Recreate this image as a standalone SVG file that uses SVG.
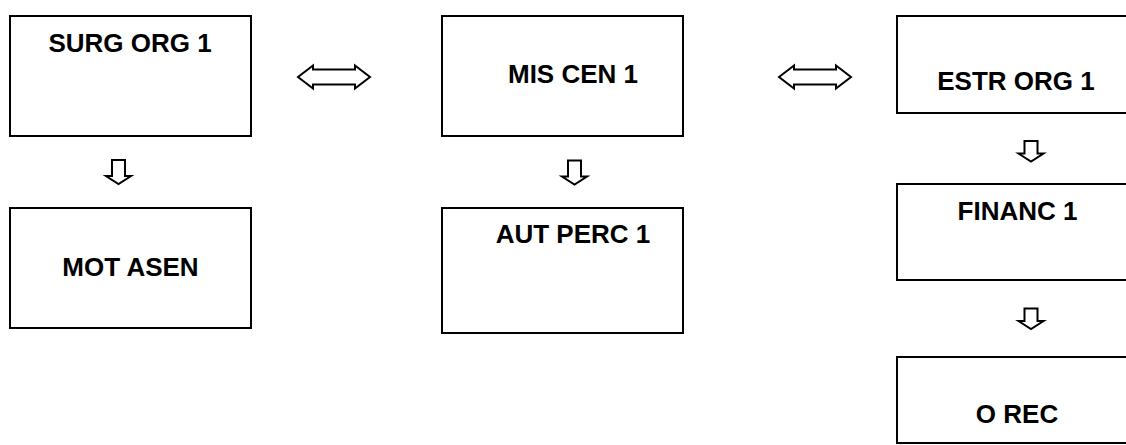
<svg xmlns="http://www.w3.org/2000/svg" width="1126" height="445" viewBox="0 0 1126 445">
<style>
.box{fill:#fff;stroke:#000;stroke-width:2}
.lbl{font-family:"Liberation Sans",Arial,sans-serif;font-weight:bold;font-size:26px;fill:#000;text-anchor:middle}
.arr{fill:#fff;stroke:#000;stroke-width:2;stroke-linejoin:miter}
</style>
<defs>
<path id="down" class="arr" d="M-6.5,-12 L6.5,-12 L6.5,4 L12.5,4 L0,12 L-12.5,4 L-6.5,4 Z"/>
<path id="downs" class="arr" d="M-6.5,-10 L6.5,-10 L6.5,2.5 L12.5,2.5 L0,10.5 L-12.5,2.5 L-6.5,2.5 Z"/>
<path id="dbl" class="arr" d="M0,0 L15,-11.5 L15,-7.5 L57,-7.5 L57,-11.5 L72,0 L57,11.5 L57,7.5 L15,7.5 L15,11.5 Z"/>
</defs>
<rect width="1126" height="445" fill="#fff"/>
<g id="n-surg">
<rect class="box" x="10" y="16" width="241" height="120"/>
<text class="lbl" x="130" y="52">SURG ORG 1</text>
</g>
<g id="n-mis">
<rect class="box" x="442" y="16" width="241" height="120"/>
<text class="lbl" x="573" y="83">MIS CEN 1</text>
</g>
<g id="n-estr">
<rect class="box" x="897" y="16" width="241" height="97"/>
<text class="lbl" x="1016" y="90">ESTR ORG 1</text>
</g>
<g id="n-mot">
<rect class="box" x="10" y="208" width="241" height="120"/>
<text class="lbl" x="130.5" y="276">MOT ASEN</text>
</g>
<g id="n-aut">
<rect class="box" x="442" y="208" width="241" height="125"/>
<text class="lbl" x="573" y="243">AUT PERC 1</text>
</g>
<g id="n-financ">
<rect class="box" x="897" y="184" width="241" height="96"/>
<text class="lbl" x="1017.5" y="220">FINANC 1</text>
</g>
<g id="n-orec">
<rect class="box" x="897" y="357" width="241" height="86"/>
<text class="lbl" x="1017" y="423">O REC</text>
</g>
<g id="connectors">
<use href="#dbl" x="298" y="77"/>
<use href="#dbl" x="779" y="77"/>
<use href="#down" x="118.5" y="172"/>
<use href="#down" x="574.5" y="172.5"/>
<use href="#downs" x="1031" y="151"/>
<use href="#downs" x="1031" y="318.5"/>
</g>
</svg>
